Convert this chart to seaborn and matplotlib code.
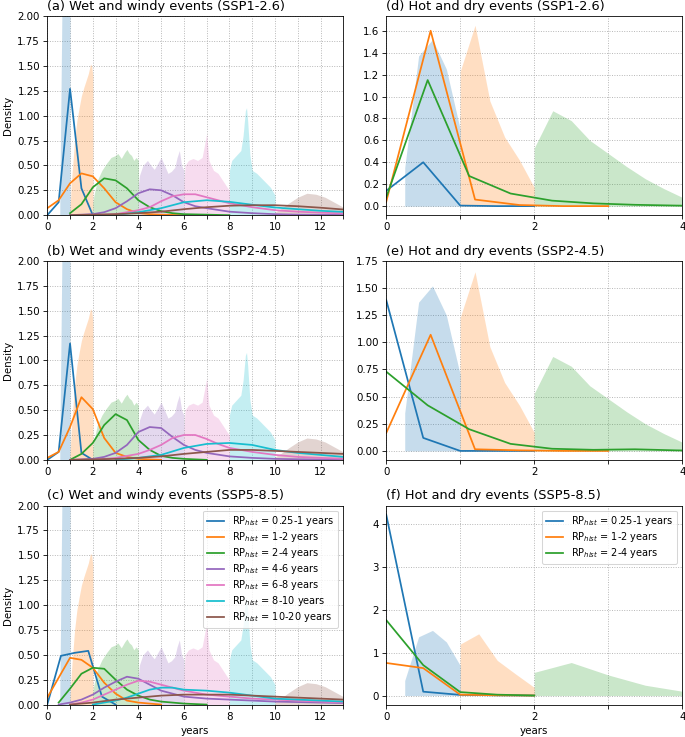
import numpy as np
import matplotlib
matplotlib.use("Agg")
import matplotlib.pyplot as plt
import seaborn as sns

# ---- labels ----
scenarios = ["SSP1-2.6", "SSP2-4.5", "SSP5-8.5"]
wet_letters = ["a", "b", "c"]
hot_letters = ["d", "e", "f"]
wet_classes = ["0.25-1", "1-2", "2-4", "4-6", "6-8", "8-10", "10-20"]
hot_classes = ["0.25-1", "1-2", "2-4"]
hot_yticks = [
    [0.0, 0.2, 0.4, 0.6, 0.8, 1.0, 1.2, 1.4, 1.6],
    [0.0, 0.25, 0.5, 0.75, 1.0, 1.25, 1.5, 1.75],
    [0, 1, 2, 3, 4],
]

# ---- historical distributions (shaded), wet and windy ----
hist_wet_x = [
    [0.55, 0.65, 0.75, 0.85, 0.95, 1.0],
    [1.0, 1.05, 1.1, 1.2, 1.3, 1.4, 1.5, 1.6, 1.7, 1.8, 1.9, 1.95, 2.0],
    [2.0, 2.05, 2.2, 2.4, 2.6, 2.8, 3.0, 3.1, 3.25, 3.4, 3.5, 3.6, 3.7, 3.8, 3.9, 4.0],
    [4.0, 4.05, 4.2, 4.4, 4.55, 4.7, 4.85, 5.0, 5.15, 5.3, 5.45, 5.6, 5.7, 5.8, 5.9, 6.0],
    [6.0, 6.05, 6.2, 6.4, 6.6, 6.8, 6.9, 7.0, 7.1, 7.3, 7.5, 7.7, 7.9, 8.0],
    [8.0, 8.1, 8.3, 8.5, 8.6, 8.7, 8.75, 8.8, 8.9, 9.0, 9.2, 9.5, 9.8, 10.0],
    [10.0, 10.3, 10.6, 11.0, 11.4, 11.8, 12.2, 12.6, 13.0, 13.5],
]
hist_wet_y = [
    [0.1, 2.2, 4.0, 4.0, 4.0, 4.0],
    [0.05, 0.3, 0.45, 0.75, 0.95, 1.08, 1.2, 1.28, 1.35, 1.42, 1.52, 1.5, 1.4],
    [0.12, 0.2, 0.35, 0.45, 0.52, 0.58, 0.6, 0.62, 0.57, 0.63, 0.66, 0.62, 0.6, 0.55, 0.58, 0.55],
    [0.3, 0.4, 0.5, 0.55, 0.5, 0.46, 0.52, 0.58, 0.5, 0.42, 0.44, 0.48, 0.58, 0.65, 0.5, 0.45],
    [0.3, 0.5, 0.55, 0.57, 0.55, 0.58, 0.7, 0.82, 0.55, 0.45, 0.42, 0.35, 0.28, 0.25],
    [0.45, 0.55, 0.6, 0.65, 0.8, 1.05, 1.08, 0.95, 0.6, 0.45, 0.42, 0.35, 0.28, 0.2],
    [0.03, 0.07, 0.12, 0.18, 0.22, 0.21, 0.18, 0.13, 0.08, 0.05],
]

# ---- historical distributions (shaded), hot and dry ----
hist_hot_blue_x = [0.25, 0.4375, 0.625, 0.8125, 1.0]
hist_hot_blue_y = [0.35, 1.37, 1.52, 1.25, 0.7]
hist_hot_orange_x = [1.0, 1.2, 1.4, 1.6, 1.8, 2.0]
hist_hot_orange_y = [1.23, 1.65, 0.96, 0.63, 0.42, 0.17]
hist_hot_green_x = [2.0, 2.25, 2.5, 2.75, 3.0, 3.25, 3.5, 3.75, 4.0]
hist_hot_green_y = [0.53, 0.87, 0.78, 0.6, 0.48, 0.36, 0.25, 0.16, 0.08]
hist_hot585_orange_x = [1.0, 1.25, 1.5, 1.75, 2.0]
hist_hot585_orange_y = [1.2, 1.44, 0.82, 0.5, 0.19]
hist_hot585_green_x = [2.0, 2.5, 3.0, 3.5, 4.0]
hist_hot585_green_y = [0.54, 0.77, 0.48, 0.24, 0.1]

# ---- future return periods, wet and windy ----
wet126_x = [
    [0, 0.5, 1, 1.5, 2],
    [0, 0.5, 1, 1.5, 2, 2.5, 3, 3.5, 4, 4.5, 5, 6],
    [1, 1.5, 2, 2.5, 3, 3.5, 4, 4.5, 5, 5.5, 6, 7, 8],
    [1, 2, 2.5, 3, 3.5, 4, 4.5, 5, 5.5, 6, 6.5, 7, 8, 9, 10, 11, 12, 13],
    [2, 3, 4, 4.5, 5, 5.5, 6, 6.5, 7, 7.5, 8, 9, 10, 11, 12, 13, 14],
    [3, 4, 5, 6, 7, 8, 9, 10, 11, 12, 13, 14],
    [1, 2, 3, 4, 5, 6, 7, 8, 9, 10, 11, 12, 13, 14],
]
wet126_y = [
    [0, 0.13, 1.27, 0.27, 0],
    [0.07, 0.15, 0.32, 0.42, 0.39, 0.27, 0.13, 0.06, 0.02, 0.01, 0.005, 0],
    [0.02, 0.11, 0.28, 0.37, 0.35, 0.27, 0.15, 0.08, 0.04, 0.02, 0.01, 0.005, 0],
    [0, 0.01, 0.03, 0.07, 0.14, 0.22, 0.26, 0.25, 0.2, 0.13, 0.09, 0.07, 0.035, 0.02, 0.01, 0.005, 0.003, 0.002],
    [0, 0.01, 0.05, 0.08, 0.14, 0.19, 0.21, 0.21, 0.18, 0.15, 0.12, 0.08, 0.05, 0.035, 0.025, 0.018, 0.012],
    [0, 0.03, 0.07, 0.13, 0.15, 0.134, 0.105, 0.077, 0.06, 0.044, 0.033, 0.025],
    [0, 0.005, 0.01, 0.02, 0.035, 0.06, 0.08, 0.095, 0.1, 0.1, 0.09, 0.075, 0.057, 0.045],
]
wet245_x = [
    [0, 0.5, 1, 1.5, 2],
    [0, 0.5, 1, 1.5, 2, 2.5, 3, 3.5, 4, 4.5, 5],
    [1, 1.5, 2, 2.5, 3, 3.5, 4, 4.5, 5, 5.5, 6, 7],
    [1, 2, 2.5, 3, 3.5, 4, 4.5, 5, 5.5, 6, 6.5, 7, 8, 9, 10, 11, 12, 13],
    [2, 3, 4, 4.5, 5, 5.5, 6, 6.5, 7, 7.5, 8, 9, 10, 11, 12, 13, 14],
    [3, 4, 5, 6, 7, 8, 9, 10, 11, 12, 13, 14],
    [1, 2, 3, 4, 5, 6, 7, 8, 9, 10, 11, 12, 13, 14],
]
wet245_y = [
    [0, 0.08, 1.17, 0.07, 0],
    [0.02, 0.08, 0.33, 0.63, 0.51, 0.22, 0.07, 0.03, 0.01, 0.005, 0],
    [0, 0.06, 0.17, 0.35, 0.46, 0.4, 0.2, 0.1, 0.04, 0.02, 0.01, 0],
    [0, 0.01, 0.03, 0.07, 0.15, 0.28, 0.33, 0.32, 0.23, 0.15, 0.1, 0.07, 0.035, 0.02, 0.01, 0.006, 0.004, 0.002],
    [0, 0.02, 0.06, 0.1, 0.15, 0.22, 0.25, 0.25, 0.21, 0.16, 0.12, 0.08, 0.05, 0.03, 0.02, 0.012, 0.008],
    [0, 0.02, 0.05, 0.12, 0.16, 0.17, 0.15, 0.1, 0.07, 0.05, 0.03, 0.02],
    [0, 0.005, 0.01, 0.02, 0.035, 0.06, 0.08, 0.1, 0.1, 0.09, 0.08, 0.07, 0.06, 0.05],
]
wet585_x = [
    [0, 0.6, 1.2, 1.8, 2.4, 3.0],
    [0, 0.5, 1, 1.5, 2, 2.5, 3, 3.5, 4, 4.5, 5],
    [0.5, 1, 1.5, 2, 2.5, 3, 3.5, 4, 4.5, 5, 6, 7],
    [0.5, 1, 1.5, 2, 2.5, 3, 3.5, 4, 4.5, 5, 6, 7, 8, 9, 10, 11, 12, 13],
    [1, 1.5, 2, 2.5, 3, 3.5, 4, 4.5, 5, 6, 7, 8, 9, 10, 11, 12, 13, 14],
    [2, 3, 3.5, 4, 4.5, 5, 5.5, 6, 7, 8, 9, 10, 11, 12, 13, 14],
    [1, 2, 3, 4, 5, 6, 7, 8, 9, 10, 11, 12, 13, 14],
]
wet585_y = [
    [0, 0.49, 0.52, 0.54, 0.08, 0],
    [0.07, 0.27, 0.47, 0.45, 0.37, 0.22, 0.11, 0.04, 0.02, 0.01, 0],
    [0.02, 0.16, 0.31, 0.37, 0.36, 0.25, 0.15, 0.09, 0.05, 0.03, 0.01, 0],
    [0, 0.02, 0.05, 0.1, 0.17, 0.23, 0.28, 0.26, 0.2, 0.14, 0.08, 0.06, 0.05, 0.04, 0.03, 0.025, 0.02, 0.015],
    [0, 0.02, 0.05, 0.1, 0.15, 0.2, 0.24, 0.23, 0.2, 0.14, 0.1, 0.08, 0.06, 0.05, 0.04, 0.03, 0.02, 0.015],
    [0, 0.04, 0.07, 0.11, 0.15, 0.17, 0.17, 0.15, 0.14, 0.12, 0.09, 0.06, 0.05, 0.04, 0.03, 0.02],
    [0, 0.02, 0.05, 0.07, 0.09, 0.1, 0.1, 0.1, 0.09, 0.08, 0.07, 0.06, 0.05, 0.04],
]

# ---- future return periods, hot and dry ----
hot126_x = [
    [0, 0.5, 1.0, 1.5, 2.0],
    [0, 0.6, 1.2, 1.8, 2.4, 3.0],
    [0, 0.56, 1.12, 1.68, 2.24, 2.8, 3.36, 3.92, 4.48],
]
hot126_y = [
    [0.14, 0.40, 0.005, 0.0, 0.0],
    [0.04, 1.6, 0.06, 0.01, 0.0, 0.0],
    [0.08, 1.15, 0.275, 0.115, 0.05, 0.025, 0.012, 0.005, 0.0],
]
hot245_x = [
    [0, 0.5, 1.0, 1.5, 2.0],
    [0, 0.6, 1.2, 1.8, 2.4, 3.0],
    [0, 0.56, 1.12, 1.68, 2.24, 2.8, 3.36, 3.92, 4.48],
]
hot245_y = [
    [1.39, 0.12, 0.0, 0.0, 0.0],
    [0.165, 1.07, 0.015, 0.005, 0.0, 0.0],
    [0.73, 0.42, 0.2, 0.065, 0.02, 0.01, 0.015, 0.005, 0.0],
]
hot585_x = [
    [0, 0.5, 1.0, 1.5, 2.0],
    [0, 0.5, 1.0, 1.5, 2.0],
    [0, 0.5, 1.0, 1.5, 2.0],
]
hot585_y = [
    [4.22, 0.09, 0.015, 0.005, 0.0],
    [0.76, 0.64, 0.02, 0.005, 0.0],
    [1.76, 0.71, 0.08, 0.02, 0.0],
]

# ---- style ----
plt.rcParams['font.family'] = ['DejaVu Sans']
pal = sns.color_palette("tab10")
line_colors = [pal[0], pal[1], pal[2], pal[4], pal[6], pal[9], pal[5]]

DPI = 74
fig, axes = plt.subplots(3, 2, figsize=(685 / DPI, 737 / DPI), dpi=DPI)
fig.subplots_adjust(left=0.069, right=0.996, bottom=0.044, top=0.978,
                    wspace=0.145, hspace=0.23)

wet_lines = [(wet126_x, wet126_y), (wet245_x, wet245_y), (wet585_x, wet585_y)]
hot_lines = [(hot126_x, hot126_y), (hot245_x, hot245_y), (hot585_x, hot585_y)]
hot_shades = [
    [(hist_hot_blue_x, hist_hot_blue_y), (hist_hot_orange_x, hist_hot_orange_y), (hist_hot_green_x, hist_hot_green_y)],
    [(hist_hot_blue_x, hist_hot_blue_y), (hist_hot_orange_x, hist_hot_orange_y), (hist_hot_green_x, hist_hot_green_y)],
    [(hist_hot_blue_x, hist_hot_blue_y), (hist_hot585_orange_x, hist_hot585_orange_y), (hist_hot585_green_x, hist_hot585_green_y)],
]


def add_grid(ax):
    ax.grid(True, linestyle=':', color='#b0b0b0', linewidth=0.9)
    ax.set_axisbelow(True)


for row in range(3):
    # wet and windy
    ax = axes[row, 0]
    for i in range(len(wet_classes)):
        ax.fill_between(hist_wet_x[i], 0, hist_wet_y[i], color=line_colors[i], alpha=0.25, linewidth=0)
    xs, ys = wet_lines[row]
    for i in range(len(wet_classes)):
        sns.lineplot(x=xs[i], y=ys[i], ax=ax, color=line_colors[i], linewidth=1.7,
                     label=r"RP$_{hist}$ = " + wet_classes[i] + " years")
    ax.set_xlim(0, 13)
    ax.set_ylim(0, 2)
    ax.set_yticks(np.arange(0, 2.01, 0.25))
    ax.set_xticks(range(0, 14))
    ax.set_xticklabels([str(t) if t % 2 == 0 else "" for t in range(0, 14)])
    ax.set_ylabel("Density")
    ax.set_title(f"({wet_letters[row]}) Wet and windy events ({scenarios[row]})", loc='left', fontsize=12.5)
    add_grid(ax)

    # hot and dry
    ax2 = axes[row, 1]
    for i, (hx, hy) in enumerate(hot_shades[row]):
        ax2.fill_between(hx, 0, hy, color=line_colors[i], alpha=0.25, linewidth=0)
    xs, ys = hot_lines[row]
    for i in range(len(hot_classes)):
        sns.lineplot(x=xs[i], y=ys[i], ax=ax2, color=line_colors[i], linewidth=1.7,
                     label=r"RP$_{hist}$ = " + hot_classes[i] + " years")
    ax2.set_xlim(0, 4)
    ax2.set_xticks([0, 1, 2, 3, 4])
    ax2.set_xticklabels(["0", "", "2", "", "4"])
    ax2.set_yticks(hot_yticks[row])
    ax2.set_ylabel("")
    ax2.set_title(f"({hot_letters[row]}) Hot and dry events ({scenarios[row]})", loc='left', fontsize=12.5)
    add_grid(ax2)

    if row == 2:
        ax.legend(loc='upper right', fontsize=9.5, labelspacing=0.2, handlelength=1.8)
        ax2.legend(loc='upper right', fontsize=9.5, labelspacing=0.2, handlelength=1.8)
        ax.set_xlabel("years")
        ax2.set_xlabel("years")
    else:
        ax.get_legend().remove()
        ax2.get_legend().remove()

fig.savefig("out.png", dpi=DPI)
